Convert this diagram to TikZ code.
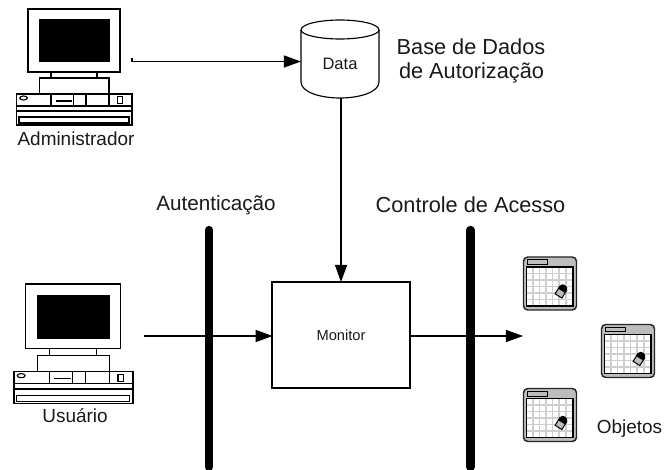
\documentclass[tikz,border=0pt]{standalone}
\usepackage{fontspec}
\setmainfont{Liberation Sans}
\usetikzlibrary{arrows.meta}
\definecolor{objgray}{HTML}{BDBDBD}
\definecolor{gridgray}{HTML}{CFCFCF}
\definecolor{inktext}{HTML}{1A1A1A}
\tikzset{
  x=0.75pt,y=-0.75pt,
  line/.style={line width=0.85pt,draw=black},
  thin line/.style={line width=0.75pt,draw=black},
  conn/.style={line width=0.85pt,draw=black,-{Triangle[length=12.8pt,width=9pt]}},
  bar/.style={line width=6.2pt,draw=black,line cap=round},
  label/.style={inner sep=0pt,font=\fontsize{14.2pt}{17pt}\selectfont,text=inktext},
  biglabel/.style={inner sep=0pt,font=\fontsize{16.3pt}{19pt}\selectfont,text=inktext},
  ghost/.style={inner sep=0pt,outer sep=0pt,draw=none},
  mon/.style={line,minimum width=103.5pt,minimum height=79.5pt,inner sep=0pt,font=\fontsize{11pt}{13pt}\selectfont,text=inktext},
}
% computer: origin = top-left of the drawing, width 115.5, height 116
\newcommand{\computerdraw}[3]{%
  \begin{scope}[shift={(#1,#2)},scale=#3]
    \draw[line] (11.5,0) rectangle (103.5,63);
    \fill[black] (22.5,10.5) rectangle (93,53);
    \draw[line] (34.5,63) rectangle (80.5,69);
    \draw[line] (23,69) rectangle (92.5,85);
    \draw[line] (0,85) rectangle (115.5,116);
    \draw[line] (0,97) -- (115.5,97);
    \draw[line] (0,102) -- (115.5,102);
    \draw[line] (34.5,85) -- (34.5,97);
    \draw[line] (57,85) -- (57,97);
    \draw[line] (69.5,85) -- (69.5,97);
    \draw[line] (92.5,85) -- (92.5,97);
    \draw[line] (2.5,108) rectangle (112.5,114);
    \draw[line] (7,89) ellipse (3.8 and 2);
    \draw[line] (101,87.5) rectangle (106,94.5);
    \draw[line] (39,92) -- (55,92);
  \end{scope}}
% object window: origin = top-left, 54 by 54
\newcommand{\objectdraw}[2]{%
  \begin{scope}[shift={(#1,#2)}]
    \filldraw[line width=1.1pt,draw=black!85,fill=objgray,rounded corners=3.2pt] (0,0) rectangle (53,53);
    \fill[white] (3,10) rectangle (49.5,49);
    \foreach \gx in {9.5,16,22.5,29,35.5,42.5}{\draw[gridgray,line width=1pt] (\gx,10) -- (\gx,49);}
    \foreach \gy in {16.5,23,29.5,36,42.5}{\draw[gridgray,line width=1pt] (3,\gy) -- (49.5,\gy);}
    \draw[line] (3,10) rectangle (49.5,49);
    \draw[thin line,fill=objgray] (4,3) rectangle (23.5,7.5);
    \begin{scope}[shift={(38.7,33)},rotate=-32]
      \filldraw[thin line,fill=objgray] (-4,-2) rectangle (4,7);
      \fill[black] (-4,1) -- (-4,-3) .. controls (-4,-6.5) and (4,-6.5) .. (4,-3) -- (4,1) -- cycle;
    \end{scope}
  \end{scope}}
\begin{document}
\begin{tikzpicture}
  \useasboundingbox (0,0) rectangle (664,470);
  \fill[white] (0,0) rectangle (664,470);

  % computers
  \computerdraw{16.5}{9}{1}
  \computerdraw{14}{284}{1.03}
  \node[label] (admlabel) at (76,139) {Administrador};
  \node[label] (usrlabel) at (75,416) {Usuário};

  % bars
  \coordinate (ltop) at (209,230);
  \coordinate (lbot) at (209,467);
  \coordinate (rtop) at (470.5,230);
  \coordinate (rbot) at (470.5,467);

  % database
  \draw[line,fill=white] (301,30)
    .. controls (301,24) and (320,20) .. (340,20)
    .. controls (360,20) and (379,24) .. (379,30)
    -- (379,82)
    .. controls (379,92) and (360,98) .. (340,98)
    .. controls (320,98) and (301,92) .. (301,82)
    -- cycle;
  \draw[line] (301,30)
    .. controls (301,35) and (320,39) .. (340,39)
    .. controls (360,39) and (379,35) .. (379,30);
  \node[ghost,minimum width=58.5pt,minimum height=58.5pt] (db) at (340,59) {};
  \node[inner sep=0pt,font=\fontsize{12.4pt}{15pt}\selectfont,text=inktext] (dblabel) at (340,64) {Data};
  \node[biglabel] (dbtitleA) at (471,47) {Base de Dados};
  \node[biglabel] (dbtitleB) at (471.5,73) {de Autorização};

  % monitor
  \node[mon] (monitor) at (341,335) {Monitor};

  % labels of the bars
  \node[inner sep=0pt,font=\fontsize{15.5pt}{19pt}\selectfont,text=inktext] (authlabel) at (216,205) {Autenticação};
  \node[biglabel] (acclabel) at (470.5,205) {Controle de Acesso};

  % objects
  \objectdraw{523.5}{257}
  \objectdraw{601.5}{324.5}
  \objectdraw{523.5}{388.5}
  \node[label] (objlabel) at (629.5,429) {Objetos};

  % connectors
  \coordinate (adminout) at (132,58);
  \coordinate (userout) at (144,336);
  \coordinate (objin) at (523,336);
  \coordinate (dbin) at (301,61.5);
  \coordinate (dbout) at (341,98);
  \coordinate (montop) at (341,282);
  \coordinate (monleft) at (272.7,336);
  \coordinate (monright) at (410.7,336);
  \draw[conn] (adminout) |- (dbin);
  \draw[conn] (dbout) -- (montop);
  \draw[conn] (userout) -- (monleft);
  \draw[conn] (monright) -- (objin);
  \draw[bar] (ltop) -- (lbot);
  \draw[bar] (rtop) -- (rbot);
\end{tikzpicture}
\end{document}
